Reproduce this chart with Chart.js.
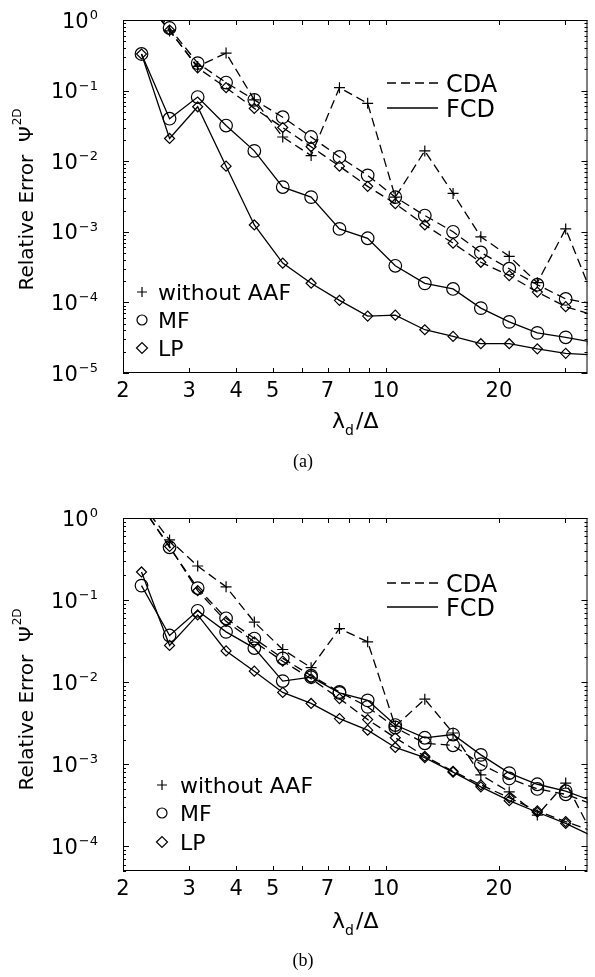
<!DOCTYPE html>
<html>
<head>
<meta charset="utf-8">
<script src="https://cdn.jsdelivr.net/npm/chart.js@4.4.1/dist/chart.umd.min.js"></script>
<style>
  body { margin: 0; background: #fff; }
  #wrap { position: relative; width: 595px; height: 977px; }
  canvas { position: absolute; left: 0; }
  #chartA { top: 0; }
  #chartB { top: 488px; }
</style>
</head>
<body>
<div id="wrap">
  <canvas id="chartA" width="595" height="488"></canvas>
  <canvas id="chartB" width="595" height="489"></canvas>
</div>
<script>
// lambda_d / Delta sample points (same in both panels)
const lambdaRatio = [2.24, 2.66, 3.16, 3.76, 4.47, 5.32, 6.33, 7.53, 8.95, 10.6, 12.7, 15.1, 17.9, 21.3, 25.3, 30.1, 35.8];
const xTickLabels = [2, 3, 4, 5, 7, 10, 20];
const xTickMarks = [2, 3, 4, 5, 6, 7, 8, 9, 10, 20, 30];

// panel (a)
const cdaNoAafA = [2.2, 0.7, 0.22, 0.34, 0.074, 0.022, 0.012, 0.11, 0.066, 0.0031, 0.014, 0.0035, 0.00085, 0.00045, 0.00019, 0.0011, 0.00011];
const cdaMfA = [2.4, 0.77, 0.245, 0.13, 0.074, 0.042, 0.022, 0.0115, 0.0063, 0.0031, 0.0017, 0.001, 0.00051, 0.0003, 0.000178, 0.000112, 0.000095];
const cdaLpA = [2.2, 0.72, 0.21, 0.11, 0.056, 0.03, 0.016, 0.0085, 0.0044, 0.0025, 0.00125, 0.00069, 0.00037, 0.00024, 0.00014, 0.000087, 0.000066];
const fcdMfA = [0.33, 0.04, 0.081, 0.032, 0.014, 0.0043, 0.0031, 0.0011, 0.00081, 0.00033, 0.000186, 0.000155, 0.000083, 0.000053, 0.000037, 0.000032, 0.000027];
const fcdLpA = [0.33, 0.021, 0.059, 0.0085, 0.00125, 0.00036, 0.000187, 0.000107, 0.000064, 0.000066, 0.000041, 0.000033, 0.000026, 0.000026, 0.000022, 0.000019, 0.000018];

// panel (b)
const cdaNoAafB = [1.5, 0.54, 0.26, 0.145, 0.054, 0.025, 0.015, 0.045, 0.031, 0.0029, 0.0062, 0.0024, 0.00074, 0.00046, 0.00024, 0.00059, 0.00013];
const cdaMfB = [1.4, 0.44, 0.14, 0.06, 0.034, 0.0195, 0.012, 0.0076, 0.005, 0.0028, 0.0018, 0.0017, 0.001, 0.00067, 0.0005, 0.00043, 0.00032];
const cdaLpB = [1.4, 0.45, 0.13, 0.055, 0.031, 0.018, 0.011, 0.0063, 0.0035, 0.0021, 0.00125, 0.00082, 0.00056, 0.00039, 0.00027, 0.0002, 0.00015];
const fcdMfB = [0.15, 0.037, 0.074, 0.041, 0.026, 0.0103, 0.0115, 0.0074, 0.006, 0.003, 0.0021, 0.0023, 0.0013, 0.00078, 0.00057, 0.00047, 0.00035];
const fcdLpB = [0.22, 0.028, 0.066, 0.024, 0.0136, 0.0075, 0.0055, 0.0036, 0.0026, 0.0016, 0.0012, 0.0008, 0.00053, 0.00036, 0.00026, 0.00019, 0.00013];

const FONT = '"DejaVu Sans", sans-serif';
Chart.defaults.font.family = FONT;
Chart.defaults.color = '#000';

function series(values, style, dashed) {
    return {
        data: lambdaRatio.map((x, i) => ({x: x, y: values[i]})),
        borderColor: '#000',
        borderWidth: 1.3,
        borderDash: dashed ? [9, 5] : [],
        pointStyle: style,
        pointRadius: style === 'circle' ? 6.3 : (style === 'cross' ? 5.5 : 5),
        pointBorderWidth: 1.2,
        pointBorderColor: '#000',
        pointBackgroundColor: 'rgba(0,0,0,0)',
        tension: 0
    };
}

// frame + inward ticks like the original plot
const frameTicks = {
    id: 'frameTicks',
    beforeDatasetsDraw(chart) {
        const {ctx, chartArea: a, scales: {x, y}} = chart;
        ctx.save();
        ctx.strokeStyle = '#000';
        ctx.lineWidth = 1;
        ctx.setLineDash([]);
        ctx.strokeRect(a.left + 0.5, a.top + 0.5, a.right - a.left - 1, a.bottom - a.top - 1);
        ctx.beginPath();
        xTickMarks.forEach(v => {
            const px = Math.round(x.getPixelForValue(v)) + 0.5;
            ctx.moveTo(px, a.bottom); ctx.lineTo(px, a.bottom - 5);
            ctx.moveTo(px, a.top); ctx.lineTo(px, a.top + 5);
        });
        for (let e = -5; e <= 0; e++) {
            for (let m = 1; m <= 9; m++) {
                const v = m * Math.pow(10, e);
                if (v < y.min * 0.999 || v > y.max * 1.001) continue;
                const len = m === 1 ? 6 : 3;
                const py = Math.round(y.getPixelForValue(v)) + 0.5;
                ctx.moveTo(a.left, py); ctx.lineTo(a.left + len, py);
                ctx.moveTo(a.right, py); ctx.lineTo(a.right - len, py);
            }
        }
        ctx.stroke();
        ctx.restore();
    }
};

const panelText = {
    id: 'panelText',
    afterDraw(chart, args, o) {
        const {ctx, chartArea: a, scales: {y}} = chart;
        ctx.save();
        ctx.fillStyle = '#000';
        ctx.strokeStyle = '#000';
        ctx.textBaseline = 'alphabetic';

        // y tick labels 10^n
        for (let e = -5; e <= 0; e++) {
            const v = Math.pow(10, e);
            if (v < y.min * 0.999) continue;
            const py = y.getPixelForValue(v);
            const sup = e === 0 ? '0' : '\u2212' + (-e);
            ctx.font = '13px ' + FONT;
            const ws = ctx.measureText(sup).width;
            ctx.textAlign = 'left';
            ctx.fillText(sup, 98 - ws, py - 1);
            ctx.font = '21px ' + FONT;
            ctx.textAlign = 'right';
            ctx.fillText('10', 97 - ws, py + 7.5);
        }

        // y title
        ctx.save();
        ctx.translate(33, o.yTitleCenter);
        ctx.rotate(-Math.PI / 2);
        ctx.font = '20px ' + FONT;
        const main = 'Relative Error  \u03A8';
        const wMain = ctx.measureText(main).width;
        ctx.font = '12px ' + FONT;
        const wSup = ctx.measureText('2D').width;
        const start = -(wMain + wSup) / 2;
        ctx.textAlign = 'left';
        ctx.font = '20px ' + FONT;
        ctx.fillText(main, start, 0);
        ctx.font = '12px ' + FONT;
        ctx.fillText('2D', start + wMain + 1, -12);
        ctx.restore();

        // x title  lambda_d / Delta
        ctx.textAlign = 'left';
        ctx.font = '22px ' + FONT;
        const wl = ctx.measureText('\u03BB').width;
        const wr = ctx.measureText('/\u0394').width;
        ctx.font = '14px ' + FONT;
        const wd = ctx.measureText('d').width;
        let tx = (a.left + a.right) / 2 - (wl + wd + 2 + wr) / 2;
        ctx.font = '22px ' + FONT;
        ctx.fillText('\u03BB', tx, o.xTitleBase);
        ctx.font = '14px ' + FONT;
        ctx.fillText('d', tx + wl, o.xTitleBase + 7);
        ctx.font = '22px ' + FONT;
        ctx.fillText('/\u0394', tx + wl + wd + 2, o.xTitleBase);

        // method legend (CDA dashed / FCD solid)
        ctx.lineWidth = 1.3;
        ctx.beginPath();
        ctx.setLineDash([9, 5]);
        ctx.moveTo(387, o.cdaY); ctx.lineTo(438, o.cdaY);
        ctx.stroke();
        ctx.beginPath();
        ctx.setLineDash([]);
        ctx.moveTo(387, o.fcdY); ctx.lineTo(438, o.fcdY);
        ctx.stroke();
        ctx.font = '24px ' + FONT;
        ctx.fillText('CDA', 446, o.cdaY + 9);
        ctx.fillText('FCD', 446, o.fcdY + 9);

        // filter legend (+ / o / diamond)
        const sx = o.symX;
        const [y1, y2, y3] = o.symY;
        ctx.lineWidth = 1.2;
        ctx.beginPath();
        ctx.moveTo(sx - 5, y1); ctx.lineTo(sx + 5, y1);
        ctx.moveTo(sx, y1 - 5); ctx.lineTo(sx, y1 + 5);
        ctx.stroke();
        ctx.beginPath();
        ctx.arc(sx, y2, 5, 0, Math.PI * 2);
        ctx.stroke();
        ctx.beginPath();
        ctx.moveTo(sx - 5.5, y3); ctx.lineTo(sx, y3 - 5.5); ctx.lineTo(sx + 5.5, y3); ctx.lineTo(sx, y3 + 5.5);
        ctx.closePath();
        ctx.stroke();
        ctx.font = '22px ' + FONT;
        ctx.fillText('without AAF', o.textX, y1 + 8);
        ctx.fillText('MF', o.textX, y2 + 8);
        ctx.fillText('LP', o.textX, y3 + 8);

        // caption
        ctx.font = '18px "Liberation Serif", "Times New Roman", serif';
        ctx.textAlign = 'center';
        ctx.fillText(o.caption, 303, o.captionY);
        ctx.restore();
    }
};

function makeChart(canvasId, panel, sets) {
    return new Chart(document.getElementById(canvasId), {
        type: 'line',
        data: {
            datasets: [
                series(sets[0], 'cross', true),
                series(sets[1], 'circle', true),
                series(sets[2], 'rectRot', true),
                series(sets[3], 'circle', false),
                series(sets[4], 'rectRot', false)
            ]
        },
        options: {
            responsive: false,
            animation: false,
            layout: {padding: {top: panel.top, right: 1, left: 0, bottom: 0}},
            plugins: {
                legend: {display: false},
                tooltip: {enabled: false},
                panelText: panel
            },
            scales: {
                x: {
                    type: 'logarithmic',
                    min: 2,
                    max: 34.4,
                    grid: {display: false, drawTicks: false},
                    border: {display: false},
                    ticks: {
                        autoSkip: false,
                        maxRotation: 0,
                        padding: 6,
                        font: {size: 21},
                        color: '#000',
                        callback: (v) => xTickLabels.includes(v) ? String(v) : ''
                    },
                    afterFit: (s) => { s.height = panel.xAxisH; }
                },
                y: {
                    type: 'logarithmic',
                    min: panel.ymin,
                    max: 1,
                    grid: {display: false, drawTicks: false},
                    border: {display: false},
                    ticks: {callback: () => ''},
                    afterFit: (s) => { s.width = 123; }
                }
            }
        },
        plugins: [frameTicks, panelText]
    });
}

makeChart('chartA', {
    top: 20, xAxisH: 115, ymin: 1e-5, caption: '(a)', captionY: 467,
    cdaY: 83, fcdY: 108, symX: 142, textX: 158, symY: [292, 320, 348],
    yTitleCenter: 200, xTitleBase: 428
}, [cdaNoAafA, cdaMfA, cdaLpA, fcdMfA, fcdLpA]);

makeChart('chartB', {
    top: 30, xAxisH: 106, ymin: 5e-5, caption: '(b)', captionY: 478,
    cdaY: 95, fcdY: 119, symX: 162, textX: 180, symY: [297, 325, 354],
    yTitleCenter: 212, xTitleBase: 440
}, [cdaNoAafB, cdaMfB, cdaLpB, fcdMfB, fcdLpB]);
</script>
</body>
</html>
